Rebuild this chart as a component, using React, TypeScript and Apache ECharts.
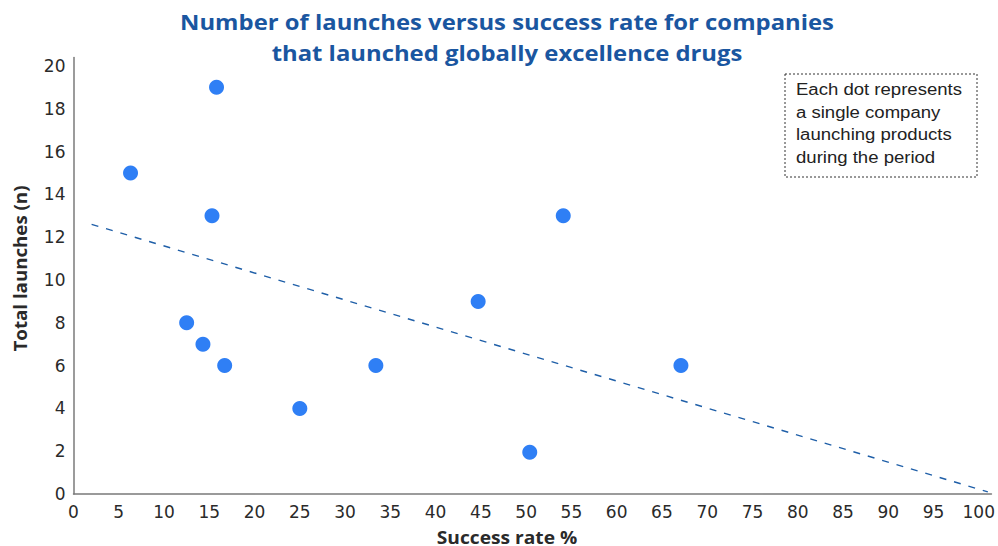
import React, { useEffect, useRef } from "react";
import * as echarts from "echarts";

const titleLines = [
  "Number of launches versus success rate for companies",
  "that launched globally excellence drugs",
];
const xAxisName = "Success rate %";
const yAxisName = "Total launches (n)";
const noteLines = ["Each dot represents", "a single company", "launching products", "during the period"];

// success rate %, total launches
const successRate = [6.3, 15.8, 15.3, 12.5, 14.3, 16.7, 25, 33.4, 44.7, 50.4, 54.1, 67.1];
const totalLaunches = [15, 19, 13, 8, 7, 6, 4, 6, 9, 1.95, 13, 6];

const trendX = [2, 101];
const trendY = [12.6, 0.1];

const xTicks = { min: 0, max: 101.4, interval: 5 };
const yTicks = { min: 0, max: 20.4, interval: 2 };

export default function App() {
  const ref = useRef<HTMLDivElement>(null);
  useEffect(() => {
    document.body.style.margin = "0";
    const chart = echarts.init(ref.current!, null, { renderer: "svg" });
    const font = "'Open Sans', Lato, sans-serif";
    const tickFont = "'DejaVu Sans', 'Open Sans', sans-serif";
    chart.setOption({
      animation: false,
      backgroundColor: "#ffffff",
      grid: { left: 73.5, right: 6, top: 57.4, bottom: 52, containLabel: false },
      xAxis: {
        type: "value",
        min: xTicks.min,
        max: xTicks.max,
        interval: xTicks.interval,
        splitLine: { show: false },
        axisTick: { show: false },
        axisLine: { lineStyle: { color: "#7a7a7a", width: 1.5 } },
        axisLabel: { showMaxLabel: false, color: "#2a2a2a", fontSize: 17, fontFamily: tickFont, margin: 9 },
      },
      yAxis: {
        type: "value",
        min: yTicks.min,
        max: yTicks.max,
        interval: yTicks.interval,
        splitLine: { show: false },
        axisTick: { show: false },
        axisLine: { show: true, lineStyle: { color: "#7a7a7a", width: 1.5 } },
        axisLabel: {
          showMaxLabel: false,
          color: "#2a2a2a",
          fontSize: 17,
          fontFamily: tickFont,
          margin: 8,
          padding: [0, 0, 9, 0],
        },
      },
      series: [
        {
          type: "line",
          data: trendX.map((x, i) => [x, trendY[i]]),
          symbol: "none",
          lineStyle: { color: "#1f5fa8", width: 1.4, type: [7, 8] },
          z: 1,
        },
        {
          type: "scatter",
          data: successRate.map((x, i) => [x, totalLaunches[i]]),
          symbolSize: 15,
          itemStyle: { color: "#2f7ff5", opacity: 1 },
          z: 3,
        },
      ],
      graphic: [
        {
          type: "text",
          x: 507,
          y: 7,
          scaleX: 1.136,
          style: {
            text: titleLines.join("\n"),
            font: `bold 21px ${font}`,
            fill: "#1a56a0",
            align: "center",
            lineHeight: 31,
          },
        },
        {
          type: "text",
          x: 20,
          y: 268.5,
          rotation: Math.PI / 2,
          scaleX: 1.1,
          style: {
            text: yAxisName,
            font: `bold 17px ${font}`,
            fill: "#2a2a2a",
            align: "center",
            verticalAlign: "middle",
          },
        },
        {
          type: "text",
          x: 507,
          y: 537,
          scaleX: 1.13,
          style: {
            text: xAxisName,
            font: `bold 17px ${font}`,
            fill: "#2a2a2a",
            align: "center",
            verticalAlign: "middle",
          },
        },
        {
          type: "rect",
          shape: { x: 785, y: 74, width: 192, height: 103 },
          style: { fill: "#ffffff", stroke: "#333", lineWidth: 1, lineDash: [2, 2] },
          z: 10,
        },
        {
          type: "text",
          x: 796,
          y: 78,
          scaleX: 1.16,
          z: 11,
          style: {
            text: noteLines.join("\n"),
            font: "16px 'Liberation Sans', Arial, sans-serif",
            fill: "#222",
            lineHeight: 22.7,
          },
        },
      ],
    });
    return () => chart.dispose();
  }, []);
  return <div ref={ref} style={{ width: 998, height: 546 }} />;
}
